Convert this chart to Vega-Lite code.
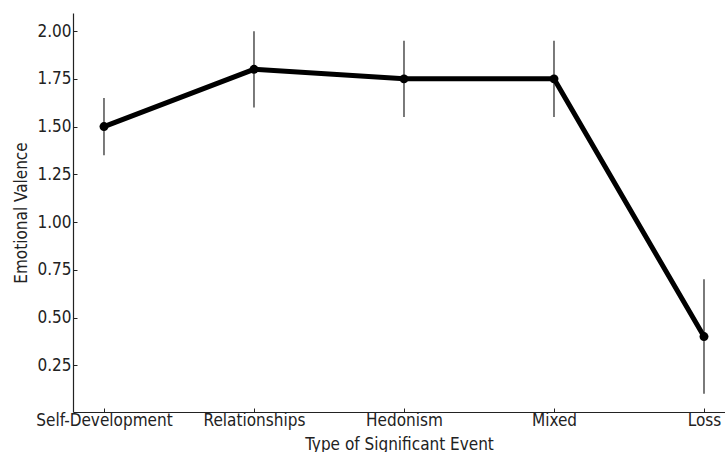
{
  "$schema": "https://vega.github.io/schema/vega-lite/v6.json",
  "width": 652,
  "height": 399,
  "autosize": "none",
  "padding": {"left": 73, "top": 13, "right": 0, "bottom": 40},
  "background": "white",
  "config": {
    "view": {"stroke": null},
    "font": "DejaVu Sans Condensed",
    "axis": {
      "labelFont": "DejaVu Sans Condensed",
      "titleFont": "DejaVu Sans Condensed",
      "labelFontSize": 17,
      "titleFontSize": 17,
      "titleFontWeight": "normal",
      "labelColor": "#222",
      "titleColor": "#222",
      "domainColor": "#222",
      "domainWidth": 1.2,
      "tickColor": "#222",
      "tickSize": -4,
      "grid": false
    }
  },
  "data": {
    "values": [
      {"event": "Self-Development", "valence": 1.5, "lower": 1.35, "upper": 1.65},
      {"event": "Relationships", "valence": 1.8, "lower": 1.6, "upper": 2.0},
      {"event": "Hedonism", "valence": 1.75, "lower": 1.55, "upper": 1.95},
      {"event": "Mixed", "valence": 1.75, "lower": 1.55, "upper": 1.95},
      {"event": "Loss", "valence": 0.4, "lower": 0.1, "upper": 0.7}
    ]
  },
  "encoding": {
    "x": {
      "field": "event",
      "type": "nominal",
      "sort": null,
      "scale": {"type": "point", "padding": 0.1733, "align": 0.596},
      "axis": {"title": "Type of Significant Event", "labelAngle": 0, "labelPadding": 4, "titlePadding": 8}
    }
  },
  "layer": [
    {
      "mark": {"type": "rule", "stroke": "#333", "strokeWidth": 1.3},
      "encoding": {
        "y": {"field": "lower", "type": "quantitative"},
        "y2": {"field": "upper"}
      }
    },
    {
      "mark": {"type": "line", "stroke": "black", "strokeWidth": 5, "point": {"filled": true, "fill": "black", "size": 80}},
      "encoding": {
        "y": {
          "field": "valence",
          "type": "quantitative",
          "scale": {"domain": [0.005, 2.095], "nice": false, "zero": false},
          "axis": {"title": "Emotional Valence", "values": [0.25, 0.5, 0.75, 1.0, 1.25, 1.5, 1.75, 2.0], "format": ".2f", "labelPadding": 6, "titlePadding": 6}
        }
      }
    }
  ]
}
